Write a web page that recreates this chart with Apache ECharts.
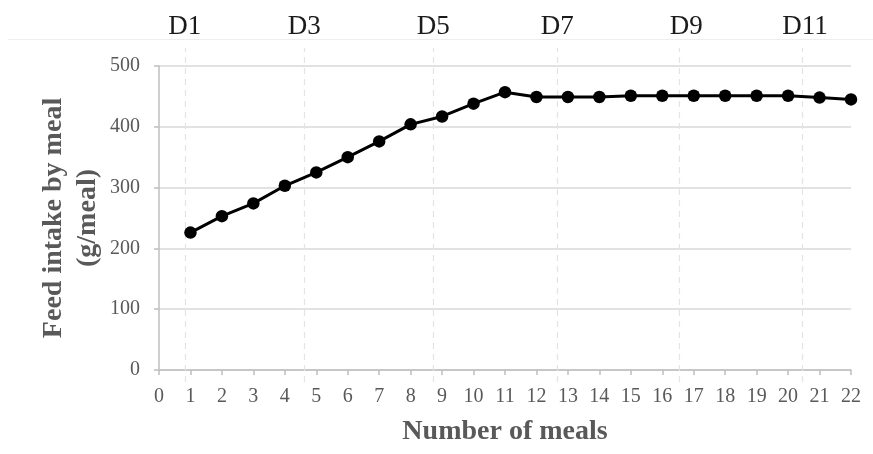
<!DOCTYPE html>
<html>
<head>
<meta charset="utf-8">
<script src="https://cdn.jsdelivr.net/npm/echarts@6/dist/echarts.min.js"></script>
<style>
html,body{margin:0;padding:0;background:#fff;}
#chart{width:873px;height:454px;}
</style>
</head>
<body>
<div id="chart"></div>
<script>
var meals = [1,2,3,4,5,6,7,8,9,10,11,12,13,14,15,16,17,18,19,20,21,22];
var intake = [226,253,274,303,325,350,376,404,417,438,457,449,449,449,451,451,451,451,451,451,448,445];
var dayNames = ['D1','D3','D5','D7','D9','D11'];
var dayPositions = [0.82,4.62,8.72,12.66,16.54,20.44];
var yTicks = [0,100,200,300,400,500];

var FONT = '"Liberation Serif","Times New Roman",serif';
var chart = echarts.init(document.getElementById('chart'), null, {renderer:'canvas'});

var lineData = meals.map(function(m,i){return [m, intake[i]];});
var dayLines = dayNames.map(function(n,i){
  return {xAxis: dayPositions[i], name: n, label: {offset: n === 'D9' ? [7,0] : (n === 'D11' ? [3,0] : [0,0])}};
});

chart.setOption({
  animation:false,
  backgroundColor:'#fff',
  graphic:[{type:'line', shape:{x1:8,y1:39.5,x2:873,y2:39.5}, style:{stroke:'#eeeeee',lineWidth:1}, silent:true, z:-1}],
  grid:[
    {left:159,right:22,top:66,bottom:84},
    {left:159,right:22,top:48,bottom:72}
  ],
  xAxis:[{
    type:'value', gridIndex:0, min:0, max:22, interval:1,
    name:'Number of meals', nameLocation:'middle', nameGap:48, nameMoveOverlap:false,
    nameTextStyle:{fontFamily:FONT,fontSize:28,fontWeight:'bold',color:'#595959'},
    axisLine:{lineStyle:{color:'#bfbfbf',width:1.5}},
    axisTick:{show:true,length:5,lineStyle:{color:'#bfbfbf',width:1.5}},
    axisLabel:{fontFamily:FONT,fontSize:20,color:'#595959',margin:17},
    splitLine:{show:false}
  },{
    type:'value', gridIndex:1, min:0, max:22, show:false
  }],
  yAxis:[{
    type:'value', gridIndex:0, min:yTicks[0], max:yTicks[yTicks.length-1], interval:100,
    name:'Feed intake by meal\n(g/meal)', nameLocation:'middle', nameRotate:90, nameGap:54, nameMoveOverlap:false,
    nameTextStyle:{fontFamily:FONT,fontSize:28,fontWeight:'bold',color:'#595959',lineHeight:34,align:'center'},
    axisLine:{show:true,lineStyle:{color:'#bfbfbf',width:1.5}},
    axisTick:{show:true,length:5,lineStyle:{color:'#bfbfbf',width:1.5}},
    axisLabel:{fontFamily:FONT,fontSize:20,color:'#595959',margin:19},
    splitLine:{show:true,lineStyle:{color:'#d9d9d9',width:1.5}}
  },{
    type:'value', gridIndex:1, min:0, max:1, show:false
  }],
  series:[{
    type:'scatter', xAxisIndex:1, yAxisIndex:1, data:[], silent:true, z:1,
    markLine:{
      silent:true, symbol:['none','none'],
      lineStyle:{type:[6,5],color:'#e3e3e3',width:1.2},
      label:{show:true,position:'end',formatter:'{b}',fontFamily:FONT,fontSize:27,color:'#1a1a1a',distance:8},
      data:dayLines
    }
  },{
    type:'line', xAxisIndex:0, yAxisIndex:0, data:lineData, z:5,
    symbol:'circle', symbolSize:12.5,
    lineStyle:{color:'#000',width:3},
    itemStyle:{color:'#000'}
  }]
});
</script>
</body>
</html>
